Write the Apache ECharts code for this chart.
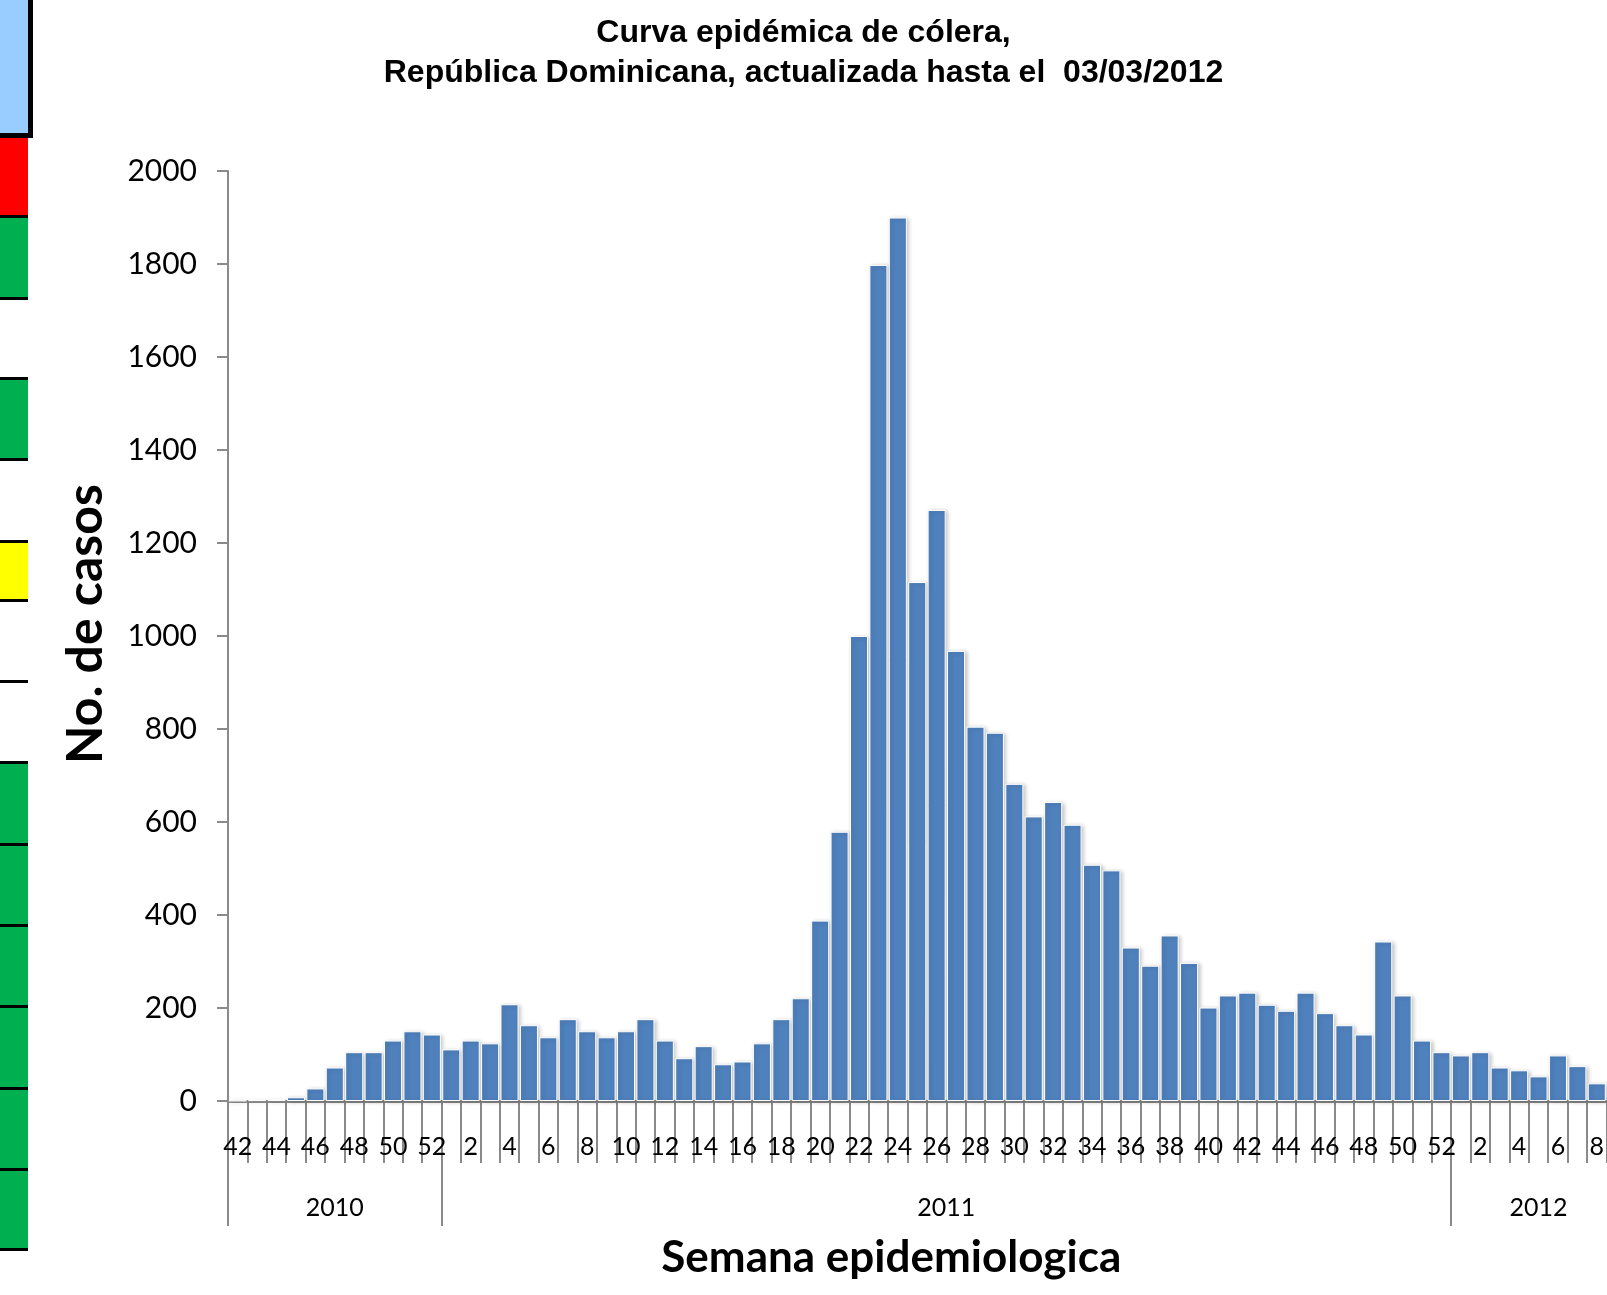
<!DOCTYPE html>
<html>
<head>
<meta charset="utf-8">
<script src="https://cdn.jsdelivr.net/npm/echarts@6/dist/echarts.min.js"></script>
<style>
  html, body { margin: 0; padding: 0; background: #ffffff; }
  #chart { width: 1607px; height: 1295px; }
</style>
</head>
<body>
<div id="chart"></div>
<script>
// ---- data ----
const years = ['2010', '2011', '2012'];
const weeks2010 = ['42','43','44','45','46','47','48','49','50','51','52'];
const weeks2011 = ['1','2','3','4','5','6','7','8','9','10','11','12','13','14','15','16','17','18','19','20',
  '21','22','23','24','25','26','27','28','29','30','31','32','33','34','35','36','37','38','39','40',
  '41','42','43','44','45','46','47','48','49','50','51','52'];
const weeks2012 = ['1','2','3','4','5','6','7','8'];

const cases2010 = [1, 2, 3, 8, 27, 72, 105, 105, 130, 150, 143];
const cases2011 = [111, 130, 124, 208, 163, 137, 176, 150, 137, 150, 176, 130, 92, 118, 79, 85, 124, 176, 221, 388,
  579, 1000, 1798, 1900, 1116, 1271, 968, 805, 792, 682, 612, 643, 594, 508, 496, 330, 291, 356, 297, 201,
  227, 233, 207, 194, 233, 189, 163, 143, 343, 227, 130, 105];
const cases2012 = [98, 105, 72, 66, 53, 98, 75, 38];

const yTicks = [0, 200, 400, 600, 800, 1000, 1200, 1400, 1600, 1800, 2000];

// ---- build ----
const categories = [].concat(
  weeks2010.map(w => '2010-' + w),
  weeks2011.map(w => '2011-' + w),
  weeks2012.map(w => '2012-' + w)
);
const values = [].concat(cases2010, cases2011, cases2012);
const n2010 = weeks2010.length, n2011 = weeks2011.length, n2012 = weeks2012.length;
const total = categories.length;
const yearStarts = [0, n2010, n2010 + n2011];
const yearCenters = [n2010 / 2, n2010 + n2011 / 2, n2010 + n2011 + n2012 / 2 + 0.5];

const LAB = 'Lato, "Open Sans", sans-serif';
const GRAY = '#8a8a8a';

// decorative strip on the left edge
const stripFill = [
  { y: 138, h: 77, c: '#ff0000' },
  { y: 218, h: 79, c: '#00b050' },
  { y: 380, h: 78, c: '#00b050' },
  { y: 543, h: 56, c: '#ffff00' },
  { y: 764, h: 484, c: '#00b050' }
];
const stripLines = [215, 297, 377, 458, 540, 599, 680, 761, 843, 924, 1005, 1087, 1168, 1248];
const graphics = [
  { type: 'rect', shape: { x: -5, y: -5, width: 35.5, height: 140.5 },
    style: { fill: '#99ccff', stroke: '#000000', lineWidth: 5 } }
];
stripFill.forEach(s => graphics.push({ type: 'rect', shape: { x: 0, y: s.y, width: 28, height: s.h }, style: { fill: s.c } }));
stripLines.forEach(y => graphics.push({ type: 'rect', shape: { x: 0, y: y, width: 28, height: 3 }, style: { fill: '#000000' } }));

const chart = echarts.init(document.getElementById('chart'), null, { renderer: 'canvas' });
chart.setOption({
  animation: false,
  backgroundColor: '#ffffff',
  title: {
    text: 'Curva epidémica de cólera,\nRepública Dominicana, actualizada hasta el  03/03/2012',
    left: 'center',
    top: 13,
    padding: 0,
    textStyle: {
      fontFamily: '"Liberation Sans", Arial, sans-serif',
      fontWeight: 'bold',
      fontSize: 32,
      lineHeight: 40,
      color: '#000000'
    }
  },
  grid: { left: 228, right: -2, top: 171, bottom: 194, containLabel: false },
  xAxis: [
    {
      type: 'category',
      data: categories,
      boundaryGap: true,
      position: 'bottom',
      name: 'Semana epidemiologica',
      nameLocation: 'middle',
      nameGap: 135,
      nameTextStyle: {
        fontFamily: LAB, fontWeight: 'bold', fontSize: 44, lineHeight: 44, color: '#000000',
        padding: [0, 52, 0, 0]
      },
      axisLine: { show: true, lineStyle: { color: GRAY, width: 3 } },
      axisTick: { show: true, interval: 0, length: 62, lineStyle: { color: GRAY, width: 2 } },
      axisLabel: {
        interval: 1,
        margin: 33,
        fontFamily: LAB, fontSize: 25, lineHeight: 25, color: '#000000',
        formatter: v => v.split('-')[1]
      },
      splitLine: { show: false }
    },
    {
      type: 'value',
      min: 0,
      max: total,
      position: 'bottom',
      axisLine: { show: false },
      axisTick: { show: true, customValues: yearStarts, length: 125, lineStyle: { color: GRAY, width: 2 } },
      axisLabel: {
        show: true,
        customValues: yearCenters,
        margin: 94,
        fontFamily: LAB, fontSize: 25, lineHeight: 25, color: '#000000',
        formatter: v => {
          for (let i = 0; i < yearCenters.length; i++) {
            if (Math.abs(v - yearCenters[i]) < 0.01) return years[i];
          }
          return '';
        }
      },
      splitLine: { show: false }
    }
  ],
  yAxis: {
    type: 'value',
    min: yTicks[0],
    max: yTicks[yTicks.length - 1],
    interval: yTicks[1] - yTicks[0],
    name: 'No. de casos',
    nameLocation: 'middle',
    nameGap: 117,
    nameTextStyle: {
      fontFamily: LAB, fontWeight: 'bold', fontSize: 50, lineHeight: 50, color: '#000000',
      padding: [0, 0, 0, 24]
    },
    axisLine: { show: true, lineStyle: { color: GRAY, width: 2 } },
    axisTick: { show: true, length: 11, lineStyle: { color: GRAY, width: 2 } },
    axisLabel: { margin: 31, fontFamily: LAB, fontSize: 30, color: '#000000', formatter: v => String(v) },
    splitLine: { show: false }
  },
  series: [{
    type: 'bar',
    data: values,
    xAxisIndex: 0,
    barCategoryGap: '7%',
    itemStyle: {
      color: '#4f81bd',
      borderColor: '#ffffff',
      borderWidth: 1,
      shadowColor: 'rgba(0,0,0,0.22)',
      shadowBlur: 4,
      shadowOffsetX: 2,
      shadowOffsetY: 1
    }
  }],
  graphic: graphics
});
</script>
</body>
</html>
